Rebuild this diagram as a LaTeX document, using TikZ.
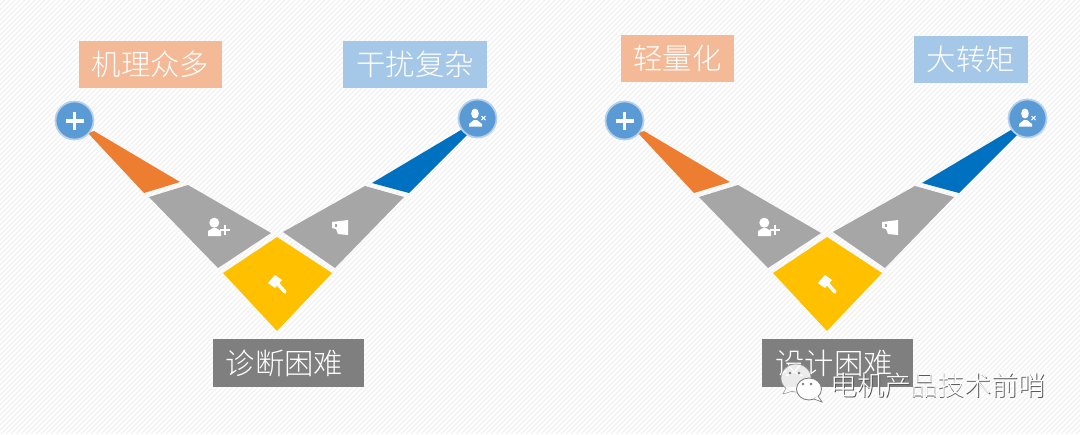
\documentclass[tikz,border=0pt]{standalone}
\usepackage{fontspec}
\setmainfont{Noto Sans CJK SC Light}
\definecolor{cOrange}{HTML}{ED7D31}
\definecolor{cBlue}{HTML}{0070C0}
\definecolor{cGray}{HTML}{A6A6A6}
\definecolor{cYellow}{HTML}{FFC000}
\definecolor{cBall}{HTML}{5B9BD5}
\definecolor{cRing}{HTML}{B5D0EA}
\definecolor{cTagO}{HTML}{F4B996}
\definecolor{cTagB}{HTML}{A6C8E8}
\definecolor{cTagG}{HTML}{7F7F7F}
\newlength{\pxu}\setlength{\pxu}{0.02cm}
\tikzset{
  tag/.style={minimum height=47\pxu, inner sep=0pt, text=white, font=\fontsize{16.7}{18}\selectfont},
  ball/.style={circle, fill=cBall, draw=cRing, line width=1pt, minimum size=38\pxu, inner sep=0pt}
}
\begin{document}
\begin{tikzpicture}[x=0.02cm,y=-0.02cm]
\useasboundingbox (0,0) rectangle (1080,434);
\fill[white] (0,0) rectangle (1080,434);
% background hatching
\begin{scope}
\clip (0,0) rectangle (1080,434);
\foreach \hx in {0,5,...,1515}
  \draw[line width=0.7pt, color=black!5] (\hx,0) -- (\hx-434,434);
\end{scope}

% both V shapes
\foreach \vx in {0,550} {
\begin{scope}[xshift=\vx*0.02cm]
\fill[cOrange] (88,133) -- (94,131) -- (180,182) -- (144,193) -- cycle;
\fill[cGray] (188,185) -- (271,233) -- (218,268) -- (149,197) -- cycle;
\fill[cYellow] (277,237) -- (332,273) -- (277,331) -- (223,273) -- cycle;
\fill[cGray] (283,232) -- (365,186) -- (404,197) -- (335,268) -- cycle;
\fill[cBlue] (372,183) -- (461,130) -- (467,135) -- (409,193) -- cycle;

% icon person plus
\fill[white] (214.3,222.7) circle (5);
\fill[white] (208,236) -- (208,231) -- (213,228) -- (216,228) -- (221,231) -- (221,236) -- cycle;
\draw[white, line width=1.2pt] (220,230) -- (230,230);
\draw[white, line width=1.2pt] (225,225) -- (225,235);
% icon sheet
\fill[white] (332,222) -- (348,220) -- (348,235) -- (338,234) -- (336,229) -- (332,228) -- cycle;
\fill[cGray] (334.5,224) rectangle (337,227);
% icon hammer
\fill[white] (268,283) -- (275,275) -- (282,280) -- (275,288) -- cycle;
\draw[white, line width=2pt, line cap=round] (277,283) -- (285,292);

\node[ball] (plus\vx) at (74.5,120.5) {};
\draw[white, line width=2pt] (74.5,112) -- (74.5,130);
\draw[white, line width=2pt] (65.5,121) -- (83.5,121);

\node[ball] (user\vx) at (477.5,118.5) {};
\fill[white] (475,113.5) ellipse (3.8 and 5);
\fill[white] (469,126.5) -- (469,124) -- (474,120) -- (477,120) -- (482,124) -- (482,126.5) -- cycle;
\draw[white, line width=0.6pt] (481.5,116) -- (485.5,120);
\draw[white, line width=0.6pt] (485.5,116) -- (481.5,120);
\end{scope}
}

\node[tag, fill=cTagO, minimum width=143\pxu] (jili) at (150.5,64.5) {机理众多};
\node[tag, fill=cTagB, minimum width=144\pxu] (ganrao) at (415,64.5) {干扰复杂};
\node[tag, fill=cTagG, minimum width=151\pxu, minimum height=48\pxu] (zhenduan) at (288.5,363) {\hspace*{-8\pxu}诊断困难};
\node[tag, fill=cTagO, minimum width=113\pxu] (qing) at (677.5,58.5) {轻量化};
\node[tag, fill=cTagB, minimum width=114\pxu] (zhuan) at (971,59) {大转矩};
\node[tag, fill=cTagG, minimum width=151\pxu, minimum height=48\pxu] (sheji) at (837.5,363) {\hspace*{-7\pxu}设计困难};

% watermark
\fill[white, fill opacity=0.85, draw=black!40, line width=0.4pt] (796,378) ellipse (15 and 14);
\fill[white, fill opacity=0.85, draw=black!40, line width=0.3pt] (786,388) -- (783,394) -- (793,391);
\fill[white, draw=black!50, line width=0.5pt] (809,389) ellipse (12.5 and 11);
\fill[white, draw=black!50, line width=0.4pt] (814,399) -- (822,402) -- (818,396);
\fill[black!50] (790,373) circle (1.5) (799,373) circle (1.5) (803,384) circle (1.3) (811,384) circle (1.3);
\node[font=\fontsize{15.3}{17}\selectfont, text=black!65, inner sep=0pt] (markb) at (938.8,386.2) {电机产品技术前哨};
\node[font=\fontsize{15.3}{17}\selectfont, text=white, inner sep=0pt] (markw) at (938,385.3) {电机产品技术前哨};
\end{tikzpicture}
\end{document}
